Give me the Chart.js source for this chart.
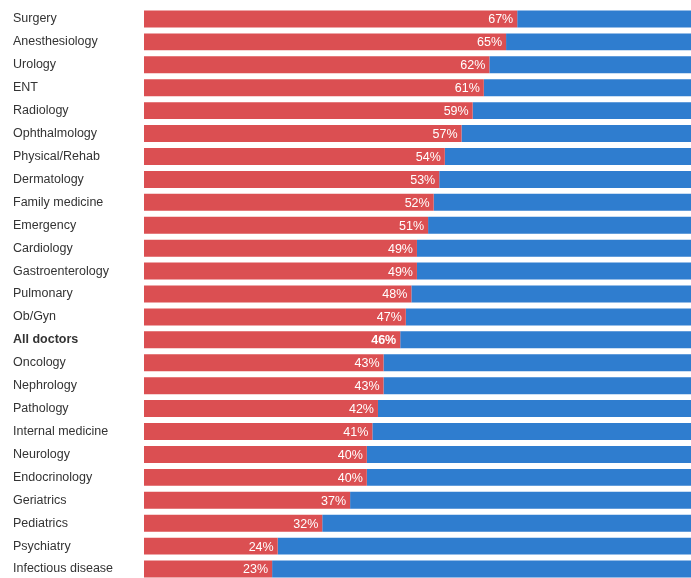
<!DOCTYPE html>
<html>
<head>
<meta charset="utf-8">
<script src="https://cdn.jsdelivr.net/npm/chart.js@4"></script>
<style>
  html, body { margin: 0; padding: 0; background: #fff; overflow: hidden; }
  #wrap { width: 691px; height: 588px; position: relative; }
</style>
</head>
<body>
<div id="wrap"><canvas id="chart"></canvas></div>
<script>
// specialties, top to bottom
const specialties = [
  'Surgery', 'Anesthesiology', 'Urology', 'ENT', 'Radiology', 'Ophthalmology',
  'Physical/Rehab', 'Dermatology', 'Family medicine', 'Emergency', 'Cardiology',
  'Gastroenterology', 'Pulmonary', 'Ob/Gyn', 'All doctors', 'Oncology',
  'Nephrology', 'Pathology', 'Internal medicine', 'Neurology', 'Endocrinology',
  'Geriatrics', 'Pediatrics', 'Psychiatry', 'Infectious disease'
];

// share shown in red (%)
const redShare = [67, 65, 62, 61, 59, 57, 54, 53, 52, 51, 49, 49, 48, 47, 46, 43, 43, 42, 41, 40, 40, 37, 32, 24, 23];

// the rest, in blue
const blueShare = redShare.map(v => 100 - v);

const totalRow = 'All doctors';

const RED = '#db4f52';
const BLUE = '#2f7dcf';

// white % labels at the end of each red bar
const endLabels = {
  id: 'endLabels',
  afterDatasetsDraw(chart) {
    const ctx = chart.ctx;
    const meta = chart.getDatasetMeta(0);
    ctx.save();
    ctx.fillStyle = '#fff';
    ctx.textAlign = 'right';
    ctx.textBaseline = 'middle';
    meta.data.forEach((bar, i) => {
      const bold = specialties[i] === totalRow;
      ctx.font = (bold ? 'bold ' : '') + '12.5px "Liberation Sans", Arial, sans-serif';
      ctx.fillText(redShare[i] + '%', bar.x - 4, bar.y + 1);
    });
    ctx.restore();
  }
};

new Chart(document.getElementById('chart'), {
  type: 'bar',
  data: {
    labels: specialties,
    datasets: [
      { data: redShare, backgroundColor: RED, barPercentage: 0.74, categoryPercentage: 1 },
      { data: blueShare, backgroundColor: BLUE, barPercentage: 0.74, categoryPercentage: 1 }
    ]
  },
  options: {
    indexAxis: 'y',
    responsive: true,
    maintainAspectRatio: false,
    animation: false,
    layout: { padding: { left: 13, right: 0, top: 7, bottom: 0 } },
    plugins: {
      legend: { display: false },
      tooltip: { enabled: false }
    },
    scales: {
      x: {
        stacked: true,
        min: 0,
        max: 98.2,
        display: false
      },
      y: {
        stacked: true,
        grid: { display: false },
        border: { display: false },
        ticks: {
          crossAlign: 'far',
          color: '#333',
          padding: 0,
          font: c => ({
            family: '"Liberation Sans", Arial, sans-serif',
            size: 12.5,
            weight: specialties[c.index] === totalRow ? 'bold' : 'normal'
          })
        },
        afterFit(scale) { scale.width = 131; }
      }
    }
  },
  plugins: [endLabels]
});
</script>
</body>
</html>
